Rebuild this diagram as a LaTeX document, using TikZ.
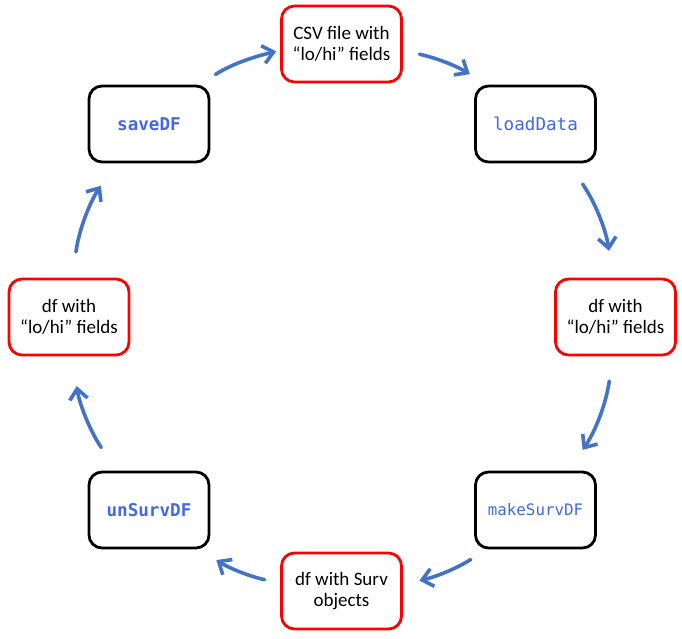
\documentclass[tikz,border=0pt]{standalone}
\usepackage{fontspec}
\setmainfont{Carlito}
\newfontfamily\codefont{DejaVu Sans Mono}
\usetikzlibrary{arrows.meta}
\definecolor{flowblue}{RGB}{68,114,196}
\definecolor{codeblue}{RGB}{65,105,225}
\definecolor{dfred}{RGB}{255,0,0}

\begin{document}
\begin{tikzpicture}[x=1pt,y=1pt,line cap=round,line join=round,
  box/.style={draw,line width=2.8pt,rounded corners=13pt,minimum width=120pt,minimum height=76pt,align=center},
  databox/.style={box,draw=dfred,font=\fontsize{19}{20.5}\selectfont},
  funbox/.style={box,draw=black,text=codeblue,font=\codefont\fontsize{17.6}{20}\selectfont},
  flow/.style={line width=3.6pt,color=flowblue,-{Straight Barb[length=10.5pt,width=18pt]}}]
  \useasboundingbox (0,0) rectangle (682,638);
  \node[databox] (csv) at (341.5,594) {CSV file with\\“lo/hi” fields};
  \node[funbox] (loadData) at (535.5,514) {loadData};
  \node[databox] (rightdf) at (615.5,321) {df with\\“lo/hi” fields};
  \node[funbox,font=\codefont\fontsize{15.8}{20}\selectfont] (makeSurvDF) at (535.5,128) {makeSurvDF};
  \node[databox] (survdf) at (341.5,47) {df with Surv\\objects};
  \node[funbox] (unSurvDF) at (149,128) {\bfseries unSurvDF};
  \node[databox] (leftdf) at (69,321) {df with\\“lo/hi” fields};
  \node[funbox] (saveDF) at (149,514) {\bfseries saveDF};
  \draw[flow,shorten <=19pt,shorten >=4pt] (saveDF.38.4) to[bend left=9.4] (csv.186.5);
  \draw[flow,shorten <=17pt,shorten >=20pt] (csv.-6.5) to[bend left=9.4] (loadData.141.6);
  \draw[flow,shorten <=25pt,shorten >=27pt] (loadData.-50.4) to[bend left=13.1] (rightdf.94.1);
  \draw[flow,shorten <=25pt,shorten >=25pt] (rightdf.-94.1) to[bend left=13.1] (makeSurvDF.50.4);
  \draw[flow,shorten <=19pt,shorten >=17pt] (makeSurvDF.-141.6) to[bend left=9.4] (survdf.6.5);
  \draw[flow,shorten <=16pt,shorten >=20pt] (survdf.173.5) to[bend left=9.4] (unSurvDF.-38.4);
  \draw[flow,shorten <=28pt,shorten >=30pt] (unSurvDF.129.6) to[bend left=13.1] (leftdf.-85.9);
  \draw[flow,shorten <=26pt,shorten >=27pt] (leftdf.85.9) to[bend left=13.1] (saveDF.230.4);
\end{tikzpicture}
\end{document}
